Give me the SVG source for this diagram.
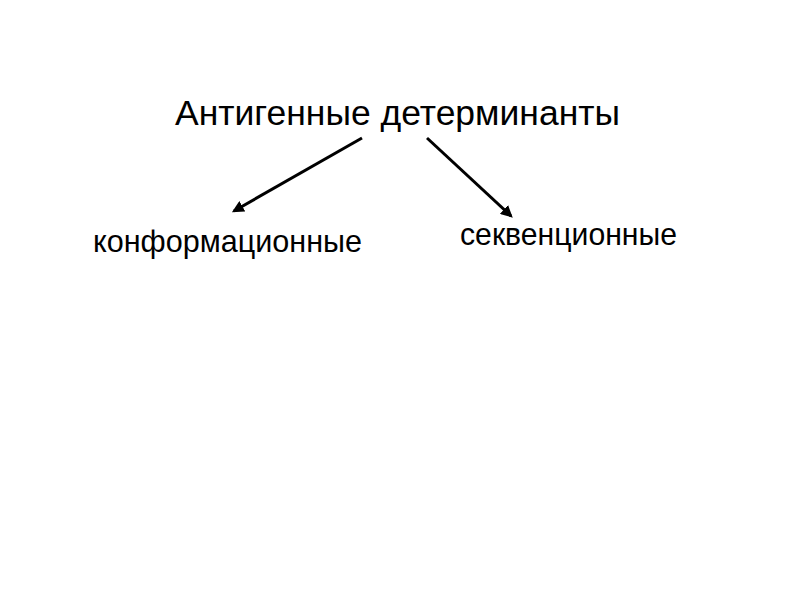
<svg xmlns="http://www.w3.org/2000/svg" width="800" height="600" viewBox="0 0 800 600">
<style>
text{font-family:"Liberation Sans",Arial,sans-serif;fill:#000}
.t{font-size:35.5px}
.s{font-size:30.5px}
.c{stroke:#000;stroke-width:3;fill:none;marker-end:url(#ah)}
</style>
<defs>
<marker id="ah" viewBox="0 0 10 10" refX="8" refY="5" markerWidth="4" markerHeight="4" orient="auto" markerUnits="strokeWidth">
<path d="M0,0 L10,5 L0,10 z" fill="#000"/>
</marker>
</defs>
<rect width="800" height="600" fill="#fff"/>
<g id="root"><text class="t" x="175" y="125" textLength="445" lengthAdjust="spacingAndGlyphs">Антигенные детерминанты</text></g>
<g id="conf"><text class="s" x="93" y="252" textLength="269" lengthAdjust="spacingAndGlyphs">конформационные</text></g>
<g id="seq"><text class="s" x="460" y="245" textLength="217" lengthAdjust="spacingAndGlyphs">секвенционные</text></g>
<g id="connectors">
<line class="c" x1="362" y1="138" x2="234" y2="211"/>
<line class="c" x1="427" y1="138" x2="511" y2="216"/>
</g>
</svg>
